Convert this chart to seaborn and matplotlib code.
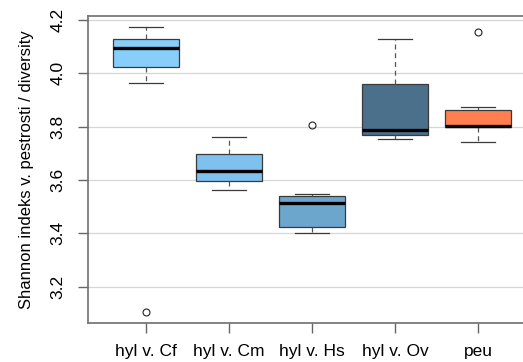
import matplotlib
matplotlib.use("Agg")
import matplotlib.pyplot as plt
import seaborn as sns
import pandas as pd

# Shannon diversity index per site group
groups = ["hyl v. Cf", "hyl v. Cm", "hyl v. Hs", "hyl v. Ov", "peu"]
cf = [3.104, 3.964, 4.025, 4.060, 4.094, 4.110, 4.128, 4.150, 4.173]
cm = [3.561, 3.598, 3.635, 3.698, 3.762]
hs = [3.403, 3.415, 3.423, 3.480, 3.514, 3.530, 3.539, 3.546, 3.807]
ov = [3.755, 3.770, 3.788, 3.959, 4.130]
pe = [3.741, 3.780, 3.797, 3.799, 3.801, 3.830, 3.861, 3.875, 4.155]
colors = ["#87CEFA", "#7EC0EE", "#6CA6CD", "#4A708B", "#FF7F50"]
yticks = [3.2, 3.4, 3.6, 3.8, 4.0, 4.2]

rows = []
for g, vals in zip(groups, [cf, cm, hs, ov, pe]):
    rows += [(g, v) for v in vals]
df = pd.DataFrame(rows, columns=["group", "shannon"])

plt.rcParams["font.family"] = ["Liberation Sans", "DejaVu Sans"]

W, H = 523, 362
fig = plt.figure(figsize=(W / 100, H / 100), dpi=100)
left, right, top, bottom = 87.5, 532, 16, 323
ax = fig.add_axes([left / W, 1 - bottom / H, (right - left) / W, (bottom - top) / H])

for t in yticks:
    ax.axhline(t, color="#d6d6d6", lw=0.9, zorder=0)

sns.boxplot(
    data=df, x="group", y="shannon", hue="group", palette=colors,
    order=groups, hue_order=groups, legend=False, width=0.8, whis=1.5,
    saturation=1, ax=ax, linecolor="#3a3a3a", linewidth=0.9,
    boxprops=dict(edgecolor="#3a3a3a", linewidth=0.9),
    medianprops=dict(color="black", linewidth=2.4),
    whiskerprops=dict(color="#555555", linestyle=(0, (4, 3)), linewidth=0.9),
    capprops=dict(color="#3a3a3a", linewidth=0.9),
    flierprops=dict(marker="o", markersize=5, markerfacecolor="none",
                    markeredgecolor="#222222", markeredgewidth=0.8),
)

ax.set_xlim(-0.705, (right - 146) / 83)
ax.set_ylim(3.064, 4.215)
ax.set_yticks(yticks)
ax.set_yticklabels([f"{t:.1f}" for t in yticks], rotation=90, va="center", fontsize=12.5)
ax.set_xticks(range(len(groups)))
ax.set_xticklabels(groups, fontsize=12.5)
ax.tick_params(axis="both", length=7, width=1, color="#666666", direction="out")
ax.tick_params(axis="y", pad=9)
ax.tick_params(axis="x", pad=8)
ax.set_xlabel("")
ax.set_ylabel("Shannon indeks v. pestrosti / diversity", fontsize=12, labelpad=12)
for s in ["left", "top", "bottom"]:
    ax.spines[s].set_color("#6e6e6e")
    ax.spines[s].set_linewidth(1.2)
ax.spines["right"].set_visible(False)
ax.set_facecolor("white")

fig.savefig("out.png", dpi=100)
